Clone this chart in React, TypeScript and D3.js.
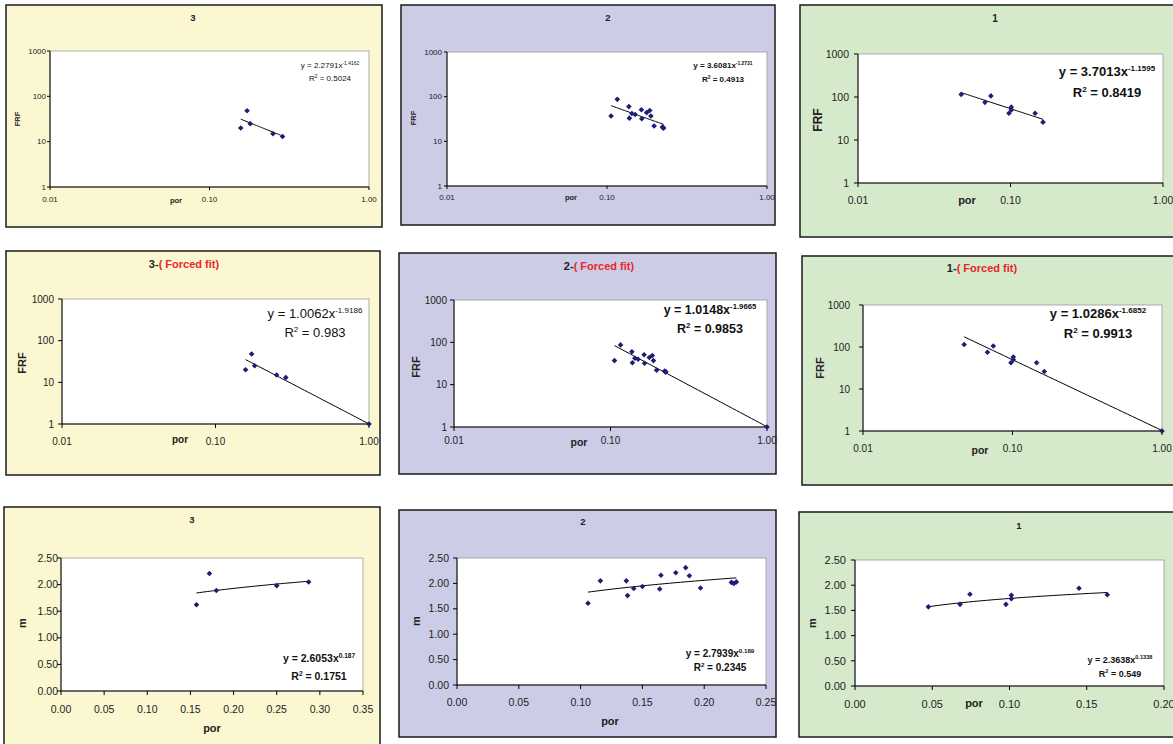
import * as d3 from "d3";

const por3 = [0.157, 0.172, 0.18, 0.25, 0.287];
const frf3 = [20, 48, 25, 15, 13];
const m3 = [1.62, 2.21, 1.89, 1.98, 2.05];

const por2 = [0.106, 0.116, 0.137, 0.138, 0.143, 0.15, 0.164, 0.165, 0.177, 0.185, 0.188, 0.197, 0.222, 0.224, 0.226];
const frf2 = [37, 87, 60, 33, 42, 40, 51, 32, 44, 49, 37, 22, 21, 20, 20];
const m2 = [1.61, 2.05, 2.05, 1.76, 1.9, 1.94, 1.89, 2.16, 2.21, 2.31, 2.15, 1.91, 2.02, 2.0, 2.03];

const por1 = [0.0475, 0.068, 0.0744, 0.0977, 0.1012, 0.1012, 0.145, 0.1633];
const frf1 = [115, 75, 106, 42, 58, 50, 42, 26];
const m1 = [1.57, 1.62, 1.82, 1.62, 1.8, 1.73, 1.94, 1.81];

// forced fits go through (1, 1)
const anchorPor = [1.0];
const anchorFrf = [1.0];

const setNames = ["3", "2", "1"];
const porSets = [por3, por2, por1];
const frfSets = [frf3, frf2, frf1];
const mSets = [m3, m2, m1];

const frfA = [2.2791, 3.6081, 3.7013];
const frfB = [-1.4162, -1.2731, -1.1595];
const frfR2 = ["0.5024", "0.4913", "0.8419"];
const forcedA = [1.0062, 1.0148, 1.0286];
const forcedB = [-1.9186, -1.9665, -1.6852];
const forcedR2 = ["0.983", "0.9853", "0.9913"];
const mA = [2.6053, 2.7939, 2.3638];
const mB = [0.187, 0.189, 0.1338];
const mR2 = ["0.1751", "0.2345", "0.549"];

const logXTicks = [0.01, 0.1, 1];
const logYTicks = [1, 10, 100, 1000];
const mYTicks = [0, 0.5, 1, 1.5, 2, 2.5];
const mXMax = [0.35, 0.25, 0.2];

const bgs = ["#fbf8d1", "#cdcce6", "#d5e9cb"];
const FONT = "'Liberation Sans', Arial, sans-serif";

// box x,y,w,h | plot l,t,r,b | tick font, tick len, y label gap, x label offset
// title x,baseline,size | xTitle x,baseline,size | yTitle x,y,size | eq cx,b1,b2,size,bold
const layouts = [
  { box: [6, 5, 376, 222], plot: [50, 51, 369, 187], tf: 8, tl: 3, yg: 4, xo: 15, title: [193, 21, 9.5], xt: [176, 203, 7.5], yt: [17, 119, 7.5], eq: [330, 68, 81, 8, false] },
  { box: [401, 5, 374, 220], plot: [447, 52, 767, 186], tf: 8, tl: 3, yg: 5, xo: 14, title: [608, 21, 9.5], xt: [571, 200, 7.5], yt: [413, 118, 7.5], eq: [723, 68, 82, 8, true] },
  { box: [800, 5, 380, 232], plot: [858, 54, 1163, 183], tf: 10.5, tl: 4, yg: 9, xo: 21, title: [995, 22, 10], xt: [967, 204, 11], yt: [818, 120, 12], eq: [1107, 76, 97, 13, true] },
  { box: [6, 251, 374, 224], plot: [62, 299, 369, 424], tf: 10, tl: 4, yg: 8, xo: 21, title: [184, 268, 11], xt: [180, 443, 10], yt: [22, 363, 11], eq: [315, 318, 337, 13, false] },
  { box: [399, 253, 377, 221], plot: [454, 300, 767, 427], tf: 10, tl: 4, yg: 7, xo: 17, title: [599, 270, 11], xt: [579, 446, 10.5], yt: [416, 367, 11], eq: [710, 314, 333, 12.5, true] },
  { box: [802, 256, 378, 229], plot: [863, 305, 1162, 431], tf: 10, tl: 4, yg: 13, xo: 21, title: [982, 272, 11], xt: [980, 454, 10.5], yt: [820, 368, 11], eq: [1098, 318, 338, 13, true] },
  { box: [4, 507, 376, 250], plot: [61, 558, 363, 691], tf: 10.5, tl: 4, yg: 3, xo: 22, title: [192, 523, 9.5], xt: [212, 732, 11], yt: [22, 623, 11], eq: [319, 662, 680, 10.5, true] },
  { box: [399, 510, 377, 227], plot: [457, 558, 766, 685], tf: 10.5, tl: 4, yg: 8, xo: 21, title: [583, 525, 9.5], xt: [610, 725, 11], yt: [416, 621, 11], eq: [720, 657, 671, 10, true] },
  { box: [799, 512, 381, 225], plot: [855, 560, 1164, 686], tf: 11, tl: 4, yg: 9, xo: 22, title: [1019, 529, 9.5], xt: [974, 707, 11], yt: [812, 623, 11], eq: [1120, 663, 677, 9, true] },
];

function diamond(cx: number, cy: number, r: number) {
  return `M${cx},${cy - r}L${cx + r},${cy}L${cx},${cy + r}L${cx - r},${cy}Z`;
}

function Panel({ idx }: { idx: number }) {
  const row = Math.floor(idx / 3);
  const col = idx % 3;
  const L: any = layouts[idx];
  const [bx, by, bw, bh] = L.box;
  const [pl, pt, pr, pb] = L.plot;
  const isLog = row < 2;
  const forced = row === 1;

  let xs = porSets[col].slice();
  let ys = row === 2 ? mSets[col].slice() : frfSets[col].slice();
  if (forced) {
    xs = xs.concat(anchorPor);
    ys = ys.concat(anchorFrf);
  }
  const a = row === 0 ? frfA[col] : row === 1 ? forcedA[col] : mA[col];
  const b = row === 0 ? frfB[col] : row === 1 ? forcedB[col] : mB[col];
  const r2 = row === 0 ? frfR2[col] : row === 1 ? forcedR2[col] : mR2[col];

  const x: any = isLog
    ? d3.scaleLog().domain([0.01, 1]).range([pl, pr])
    : d3.scaleLinear().domain([0, mXMax[col]]).range([pl, pr]);
  const y: any = isLog
    ? d3.scaleLog().domain([1, 1000]).range([pb, pt])
    : d3.scaleLinear().domain([0, 2.5]).range([pb, pt]);

  const xTicks = isLog ? logXTicks : d3.range(0, mXMax[col] + 1e-9, 0.05);
  const yTicks = isLog ? logYTicks : mYTicks;
  const xFmt = d3.format(".2f");
  const yFmt = isLog ? d3.format("d") : d3.format(".2f");

  const x0 = d3.min(porSets[col]) as number;
  const x1 = forced ? 1 : (d3.max(porSets[col]) as number);
  const trend = d3.range(41).map((i) => {
    const px = isLog ? x0 * Math.pow(x1 / x0, i / 40) : x0 + ((x1 - x0) * i) / 40;
    return [px, a * Math.pow(px, b)] as [number, number];
  });
  const line = d3.line<[number, number]>().x((d) => x(d[0])).y((d) => y(d[1]));

  const [ecx, eb1, eb2, es, ebold] = L.eq;
  const sup = es * 0.62;
  const eqWeight = ebold ? "bold" : "normal";

  return (
    <g fontFamily={FONT}>
      <rect x={bx} y={by} width={bw} height={bh} fill={bgs[col]} stroke="#1a1a1a" strokeWidth={1.5} />
      <rect x={pl} y={pt} width={pr - pl} height={pb - pt} fill="#fff" stroke="#9a9a9a" strokeWidth={0.8} />
      {/* title */}
      <text x={L.title[0]} y={L.title[1]} textAnchor="middle" fontSize={L.title[2]} fontWeight="bold" fill="#222">
        {forced ? (
          <>
            <tspan>{setNames[col] + "-"}</tspan>
            <tspan fill="#e8262b">( Forced fit)</tspan>
          </>
        ) : (
          setNames[col]
        )}
      </text>
      {/* axes */}
      <line x1={pl} x2={pl} y1={pt} y2={pb} stroke="#000" strokeWidth={1} />
      <line x1={pl} x2={pr} y1={pb} y2={pb} stroke="#000" strokeWidth={1} />
      {yTicks.map((t) => (
        <g key={"y" + t}>
          <line x1={pl - L.tl} x2={pl} y1={y(t)} y2={y(t)} stroke="#000" />
          <text x={pl - L.yg} y={y(t)} dy="0.35em" textAnchor="end" fontSize={L.tf} fill="#222">
            {yFmt(t)}
          </text>
        </g>
      ))}
      {xTicks.map((t) => (
        <g key={"x" + t}>
          <line x1={x(t)} x2={x(t)} y1={pb} y2={pb + L.tl} stroke="#000" />
          <text x={x(t)} y={pb + L.xo} textAnchor="middle" fontSize={L.tf} fill="#222">
            {xFmt(t)}
          </text>
        </g>
      ))}
      <text x={L.xt[0]} y={L.xt[1]} textAnchor="middle" fontSize={L.xt[2]} fontWeight="bold" fill="#222">
        por
      </text>
      <text
        transform={`translate(${L.yt[0]},${L.yt[1]}) rotate(-90)`}
        dy="0.35em"
        textAnchor="middle"
        fontSize={L.yt[2]}
        fontWeight="bold"
        fill="#222"
      >
        {row === 2 ? "m" : "FRF"}
      </text>
      {/* trend + points */}
      <path d={line(trend) as string} fill="none" stroke="#000" strokeWidth={1} />
      {xs.map((v, i) => (
        <path key={i} d={diamond(x(v), y(ys[i]), 2.8)} fill="#1d1d78" />
      ))}
      {/* equation */}
      <text x={ecx} y={eb1} textAnchor="middle" fontSize={es} fontWeight={eqWeight} fill="#111">
        <tspan>{`y = ${a.toFixed(4)}x`}</tspan>
        <tspan fontSize={sup} dy={-es * 0.42}>
          {String(b)}
        </tspan>
      </text>
      <text x={ecx} y={eb2} textAnchor="middle" fontSize={es} fontWeight={eqWeight} fill="#111">
        <tspan>R</tspan>
        <tspan fontSize={sup} dy={-es * 0.42}>
          2
        </tspan>
        <tspan dy={es * 0.42}>{` = ${r2}`}</tspan>
      </text>
    </g>
  );
}

export default function App() {
  return (
    <svg
      width={1173}
      height={744}
      style={{ position: "absolute", left: 0, top: 0, background: "#fff" }}
    >
      {layouts.map((_, i) => (
        <Panel key={i} idx={i} />
      ))}
    </svg>
  );
}
